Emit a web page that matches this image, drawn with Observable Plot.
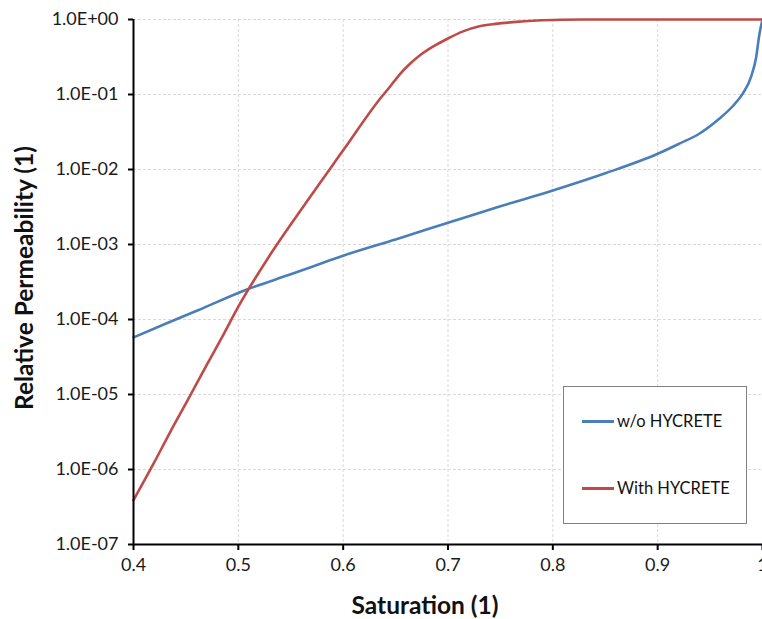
<!DOCTYPE html>
<html><head><meta charset="utf-8">
<script src="https://cdn.jsdelivr.net/npm/d3@7"></script>
<script src="https://cdn.jsdelivr.net/npm/@observablehq/plot@0.6"></script>
<style>
body{margin:0;background:#fff;overflow:hidden}
#wrap{position:relative;width:762px;height:619px;font-family:Lato,sans-serif;color:#111}
.lab{position:absolute;font-weight:bold;font-size:24.5px;white-space:nowrap;line-height:1}
#ylab{left:24px;top:278px;transform:translate(-50%,-50%) rotate(-90deg)}
#xlab{left:425px;top:605px;transform:translate(-50%,-50%)}
#legend{position:absolute;left:563px;top:386px;width:182px;height:136px;border:1px solid #7f7f7f;background:#fff;font-size:16.5px}
.item{position:absolute;left:18px;display:flex;align-items:center;white-space:nowrap}
.sw{width:32px;height:3px;margin-right:3px}
</style></head><body>
<div id="wrap">
  <div id="ylab" class="lab">Relative Permeability (1)</div>
  <div id="xlab" class="lab">Saturation (1)</div>
</div>
<script>
// Series names
const seriesNames = ["w/o HYCRETE", "With HYCRETE"];
const seriesColors = ["#4A7EBB", "#BE4B48"];

// w/o HYCRETE
const satBlue = [0.40, 0.43, 0.461, 0.51, 0.55, 0.588, 0.60, 0.65, 0.70, 0.75, 0.80, 0.85, 0.90, 0.92, 0.94, 0.959, 0.972, 0.981, 0.989, 0.994, 0.997, 1.0];
const krBlue  = [5.75e-5, 8.7e-5, 1.32e-4, 2.57e-4, 4.0e-4, 6.2e-4, 7.1e-4, 1.17e-3, 1.95e-3, 3.24e-3, 5.25e-3, 8.9e-3, 1.62e-2, 2.19e-2, 3.02e-2, 4.79e-2, 7.08e-2, 0.102, 0.170, 0.316, 0.631, 1.0];

// With HYCRETE
const satRed = [0.40, 0.42, 0.435, 0.45, 0.47, 0.485, 0.50, 0.533, 0.559, 0.60, 0.635, 0.645, 0.654, 0.663, 0.673, 0.686, 0.699, 0.715, 0.73, 0.745, 0.762, 0.785, 0.807, 0.83, 1.0];
const krRed  = [3.9e-7, 1.26e-6, 3.16e-6, 7.6e-6, 2.5e-5, 6.0e-5, 1.48e-4, 8.3e-4, 2.8e-3, 1.8e-2, 8.71e-2, 0.129, 0.186, 0.251, 0.331, 0.437, 0.550, 0.700, 0.813, 0.875, 0.923, 0.968, 0.991, 1.0, 1.0];

// Tick labels
const xTicks = [0.4, 0.5, 0.6, 0.7, 0.8, 0.9, 1.0];
const yTicks = [1e-7, 1e-6, 1e-5, 1e-4, 1e-3, 1e-2, 1e-1, 1];

const blue = satBlue.map((s, i) => ({s, kr: krBlue[i]}));
const red = satRed.map((s, i) => ({s, kr: krRed[i]}));

const fmtY = d => {
  const e = Math.round(Math.log10(d));
  return "1.0E" + (e < 0 ? "-" : "+") + String(Math.abs(e)).padStart(2, "0");
};

const chart = Plot.plot({
  width: 762, height: 619,
  marginLeft: 133, marginRight: 0, marginTop: 19, marginBottom: 75,
  x: {domain: [0.4, 1], label: null},
  y: {type: "log", domain: [1e-7, 1], label: null},
  style: {fontFamily: "Lato, sans-serif", fontSize: "18px", color: "#1a1a1a", background: "transparent", overflow: "visible"},
  marks: [
    Plot.gridX(xTicks.filter(t => t > 0.4), {stroke: "#d9d9d9", strokeOpacity: 1, strokeDasharray: "3,2"}),
    Plot.gridY(yTicks.filter(t => t > 1e-7), {stroke: "#d9d9d9", strokeOpacity: 1, strokeDasharray: "3,2"}),
    Plot.line(blue, {x: "s", y: "kr", stroke: seriesColors[0], strokeWidth: 2.6, curve: "monotone-x"}),
    Plot.line(red, {x: "s", y: "kr", stroke: seriesColors[1], strokeWidth: 2.6, curve: "monotone-x"}),
    Plot.ruleX([0.4], {stroke: "black", strokeWidth: 2}),
    Plot.ruleY([1e-7], {stroke: "black", strokeWidth: 2}),
    Plot.axisX(xTicks, {tickSize: 6, tickPadding: 8, strokeWidth: 2, stroke: "black", tickFormat: d => d === 1 ? "1" : d.toFixed(1), label: null}),
    Plot.axisY(yTicks, {tickSize: 5, tickPadding: 10, strokeWidth: 2, stroke: "black", tickFormat: fmtY, label: null})
  ]
});
const wrap = document.getElementById("wrap");
chart.style.position = "absolute";
chart.style.left = "0"; chart.style.top = "0";
wrap.insertBefore(chart, wrap.firstChild);

const legend = document.createElement("div");
legend.id = "legend";
seriesNames.forEach((n, i) => {
  const it = document.createElement("div");
  it.className = "item";
  it.style.top = (i === 0 ? 24 : 91) + "px";
  const sw = document.createElement("div");
  sw.className = "sw"; sw.style.background = seriesColors[i];
  const t = document.createElement("span"); t.textContent = n;
  it.appendChild(sw); it.appendChild(t);
  legend.appendChild(it);
});
wrap.appendChild(legend);
</script>
</body></html>
